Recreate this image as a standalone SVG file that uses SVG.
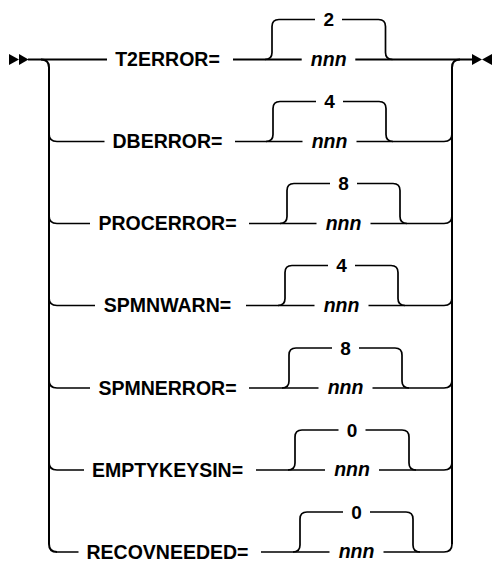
<svg xmlns="http://www.w3.org/2000/svg" width="492" height="563" viewBox="0 0 492 563">
<defs>
<style>
.main{fill:none;stroke:#000;stroke-width:2;stroke-linecap:butt}
.br{fill:none;stroke:#000;stroke-width:1.7}
.lbl{font-family:"Liberation Sans",Arial,sans-serif;font-weight:bold;font-size:19.5px;fill:#000;text-anchor:middle}
.def{font-family:"Liberation Sans",Arial,sans-serif;font-weight:bold;font-size:19px;fill:#000;text-anchor:middle}
.var{font-family:"Liberation Sans",Arial,sans-serif;font-weight:bold;font-style:italic;font-size:19.5px;fill:#000;text-anchor:middle}
.arr{fill:#000}
</style>
</defs>
<rect width="492" height="563" fill="#fff"/>
<g id="connectors">
<polygon class="arr" points="9,54 19,59.5 9,65"/>
<polygon class="arr" points="19,54 28.5,59.5 19,65"/>
<polygon class="arr" points="472,54 482,59.5 472,65"/>
<polygon class="arr" points="492,54 482,59.5 492,65"/>
<path class="main" d="M28 59.5 H107"/>
<path class="main" d="M41 59.5 Q49 59.5 49 67.5 V544 Q49 552 57 552"/>
<path class="main" d="M452 544 V67.5 Q452 59.5 460 59.5"/>
</g>
<g id="row-t2error">
<text class="lbl" x="167.5" y="66">T2ERROR=</text>
<path class="main" d="M233 59.5 H301.7 M355.3 59.5 H472"/>
<path class="br" d="M265 59.5 Q272 59.5 272 52.5 V26.5 Q272 19.5 279 19.5 H315 M342 19.5 H378.5 Q385.5 19.5 385.5 26.5 V52.5 Q385.5 59.5 392.5 59.5"/>
<text class="def" x="328.7" y="26.3">2</text>
<text class="var" x="328.7" y="65.5">nnn</text>
</g>
<g id="row-dberror">
<path class="br" d="M49 133.5 Q49 141.5 57 141.5 H104.5"/>
<text class="lbl" x="167.5" y="148">DBERROR=</text>
<path class="br" d="M235 141.5 H302.5 M356.5 141.5 H444 Q452 141.5 452 133.5"/>
<path class="br" d="M266 141.5 Q273 141.5 273 134.5 V108.5 Q273 101.5 280 101.5 H316 M343 101.5 H379 Q386 101.5 386 108.5 V134.5 Q386 141.5 393 141.5"/>
<text class="def" x="329.5" y="108.3">4</text>
<text class="var" x="329.5" y="147.5">nnn</text>
</g>
<g id="row-procerror">
<path class="br" d="M49 215.5 Q49 223.5 57 223.5 H90"/>
<text class="lbl" x="167.5" y="230">PROCERROR=</text>
<path class="br" d="M249 223.5 H316.5 M370.5 223.5 H444 Q452 223.5 452 215.5"/>
<path class="br" d="M280 223.5 Q287 223.5 287 216.5 V190.5 Q287 183.5 294 183.5 H330 M357 183.5 H393 Q400 183.5 400 190.5 V216.5 Q400 223.5 407 223.5"/>
<text class="def" x="343.5" y="190.3">8</text>
<text class="var" x="343.5" y="229.5">nnn</text>
</g>
<g id="row-spmnwarn">
<path class="br" d="M49 297.5 Q49 305.5 57 305.5 H95"/>
<text class="lbl" x="167.5" y="312">SPMNWARN=</text>
<path class="br" d="M246 305.5 H314.5 M368.5 305.5 H444 Q452 305.5 452 297.5"/>
<path class="br" d="M278 305.5 Q285 305.5 285 298.5 V272.5 Q285 265.5 292 265.5 H328 M355 265.5 H391 Q398 265.5 398 272.5 V298.5 Q398 305.5 405 305.5"/>
<text class="def" x="341.5" y="272.3">4</text>
<text class="var" x="341.5" y="311.5">nnn</text>
</g>
<g id="row-spmnerror">
<path class="br" d="M49 380 Q49 388 57 388 H90"/>
<text class="lbl" x="167.5" y="394.5">SPMNERROR=</text>
<path class="br" d="M249 388 H318.5 M372.5 388 H444 Q452 388 452 380"/>
<path class="br" d="M282 388 Q289 388 289 381 V355 Q289 348 296 348 H332 M359 348 H395 Q402 348 402 355 V381 Q402 388 409 388"/>
<text class="def" x="345.5" y="354.8">8</text>
<text class="var" x="345.5" y="394">nnn</text>
</g>
<g id="row-emptykeysin">
<path class="br" d="M49 462 Q49 470 57 470 H84"/>
<text class="lbl" x="167.5" y="476.5">EMPTYKEYSIN=</text>
<path class="br" d="M256 470 H325 M379 470 H444 Q452 470 452 462"/>
<path class="br" d="M288 470 Q295 470 295 463 V437 Q295 430 302 430 H338.5 M365.5 430 H402 Q409 430 409 437 V463 Q409 470 416 470"/>
<text class="def" x="352" y="436.8">0</text>
<text class="var" x="352" y="476">nnn</text>
</g>
<g id="row-recovneeded">
<text class="lbl" x="167.5" y="558.5">RECOVNEEDED=</text>
<path class="br" d="M57 552 H78.5 M261 552 H329.5 M383.5 552 H444 Q452 552 452 544"/>
<path class="br" d="M293 552 Q300 552 300 545 V519 Q300 512 307 512 H343 M370 512 H406 Q413 512 413 519 V545 Q413 552 420 552"/>
<text class="def" x="356.5" y="518.8">0</text>
<text class="var" x="356.5" y="558">nnn</text>
</g>
</svg>
